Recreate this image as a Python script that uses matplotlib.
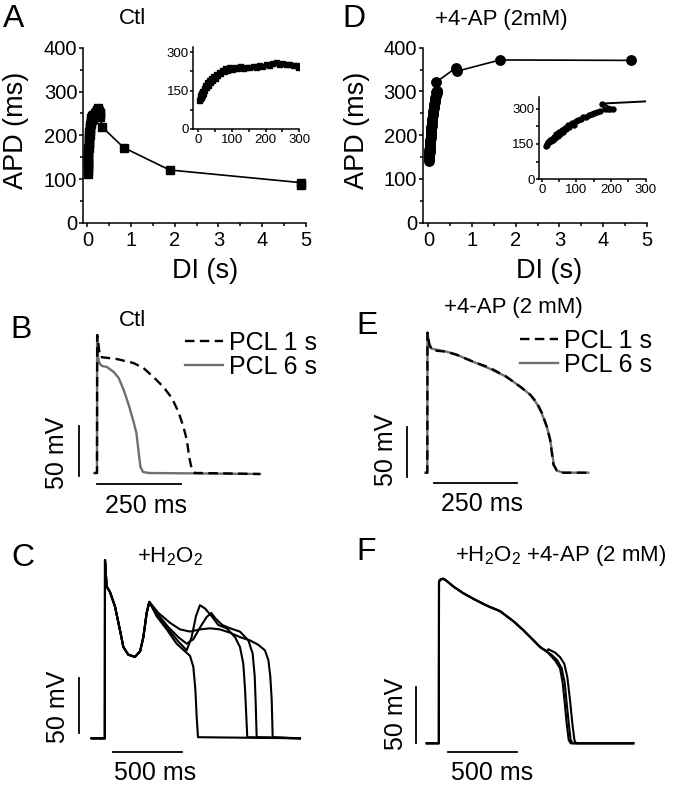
import matplotlib
matplotlib.use('Agg')
import matplotlib.pyplot as plt
from matplotlib.ticker import MultipleLocator
import numpy as np

plt.rcParams['font.family'] = ['Liberation Sans', 'DejaVu Sans']
plt.rcParams['mathtext.fontset'] = 'custom'
plt.rcParams['mathtext.rm'] = 'Liberation Sans'
plt.rcParams['mathtext.it'] = 'Liberation Sans:italic'

# ---------------- data ----------------
# Panel A (Ctl): DI (ms) vs APD (ms)
A_di = [2, 4, 5, 7, 8, 10, 12, 14, 16, 18, 20, 22, 25, 28, 31, 34, 37, 40, 44, 48,
        52, 56, 60, 65, 70, 75, 80, 86, 92, 100, 108, 116, 125, 134, 143, 152, 161, 170, 180, 190,
        200, 210, 220, 230, 240, 250, 260, 270, 280, 290, 297,
        335, 830, 1880, 4900, 4900]
A_apd = [112, 120, 132, 126, 140, 134, 150, 142, 160, 152, 172, 162, 182, 172, 192, 182, 200, 192, 208, 200,
         216, 210, 224, 218, 232, 226, 240, 232, 244, 236, 242, 238, 246, 240, 244, 242, 248, 244, 250, 248,
         254, 252, 258, 262, 256, 258, 254, 256, 252, 250, 242,
         219, 172, 121, 92, 86]

# Panel D (+4-AP): DI (ms) vs APD (ms)
D_di = [12, 14, 16, 18, 20, 23, 26, 29, 32, 35, 38, 42, 46, 50, 54, 58, 62, 66, 70, 75,
        80, 86, 92, 98, 105, 112, 120, 128, 136, 144, 152, 160, 168, 182, 190, 198, 205, 175,
        630, 645, 1640, 4640]
D_apd = [140, 146, 150, 156, 160, 166, 162, 172, 168, 180, 176, 190, 184, 200, 194, 210, 202, 218, 212, 228,
         222, 238, 232, 246, 250, 256, 262, 266, 272, 276, 282, 286, 290, 298, 300, 296, 300, 321,
         354, 346, 372, 371]

# Panel B (Ctl) traces: time (ms), membrane potential (mV)
B_pcl1_t = [-8, 0, 0.5, 2, 9, 59, 109, 139, 169, 199, 224, 244, 259, 269, 276, 283, 293, 308, 488]
B_pcl1_v = [-85, -85, 53, 50, 31, 29, 25, 20, 11, 1, -10, -24, -39, -52, -69, -80, -85, -85, -86]
B_pcl6_t = [-8, 0, 0.5, 3, 7, 15, 30, 50, 65, 80, 95, 108, 118, 125, 130, 138, 155, 488]
B_pcl6_v = [-85, -85, 53, 31, 25, 22, 21, 16, 10, -2, -17, -32, -45, -65, -79, -84, -85, -86]

# Panel E (+4-AP) traces
E_pcl1_t = [-6, 0, 0.5, 6, 13, 28, 58, 88, 138, 188, 238, 280, 310, 330, 345, 360, 370, 375, 380, 390, 410, 485]
E_pcl1_v = [-85, -85, 55, 43, 38, 37, 36, 33, 26, 20, 11, 1, -7, -15, -25, -39, -52, -65, -77, -83, -85, -85]
E_pcl6_t = [-6, 0, 0.5, 6, 13, 28, 58, 88, 138, 188, 238, 280, 310, 330, 345, 360, 370, 376, 381, 391, 410, 485]
E_pcl6_v = [-85, -85, 55, 44, 39, 38, 36, 33, 26, 19, 11, 1, -7, -16, -26, -39, -52, -65, -77, -83, -85, -85]

# Panel C (+H2O2) traces: shared start + 4 beat endings
C_start_t = [-97, -1, 0, 12, 36, 72, 109, 133, 169, 217, 254, 278, 302, 321]
C_start_v = [-85, -85, 77, 53, 48, 35, 13, -2, -9, -11, -6, 7, 29, 39]
C_end_t = [
    [374, 447, 519, 580, 616, 640, 655, 664, 674, 1413],
    [387, 459, 531, 592, 628, 659, 688, 725, 773, 821, 882, 942, 978, 1002, 1015, 1024, 1031, 1413],
    [387, 459, 531, 592, 640, 690, 735, 770, 800, 850, 906, 978, 1039, 1070, 1085, 1092, 1099, 1413],
    [387, 471, 544, 616, 688, 761, 833, 906, 978, 1051, 1111, 1159, 1184, 1198, 1208, 1215, 1413],
]
C_end_v = [
    [26, 14, 1, -6, -10, -20, -41, -65, -84, -85],
    [26, 14, 3, -5, 7, 26, 36, 33, 26, 18, 15, 7, -2, -17, -41, -65, -84, -85],
    [27, 16, 7, 1, 5, 16, 25, 29, 24, 18, 15, 12, 4, -8, -29, -53, -84, -85],
    [29, 20, 14, 12, 14, 15, 14, 11, 7, 4, 0, -5, -14, -29, -50, -84, -85],
]

# Panel F (+H2O2 +4-AP) traces
F_start_t = [-89, -1, 0, 7, 31, 55, 104, 176, 249, 345, 442, 539, 611, 684, 732, 780]
F_start_v = [-85, -85, 59, 61, 62, 60, 55, 49, 44, 38, 33, 24, 16, 7, 1, -3]
F_end_t = [
    [804, 841, 877, 896, 911, 925, 940, 954, 1408],
    [816, 858, 889, 911, 925, 940, 954, 969, 1408],
    [792, 841, 877, 908, 930, 949, 966, 981, 993, 1408],
]
F_end_v = [
    [-6, -11, -18, -31, -49, -67, -82, -85, -85],
    [-6, -11, -18, -31, -49, -67, -82, -85, -85],
    [-1, -4, -8, -14, -26, -46, -67, -82, -85, -85],
]

# ---------------- layout helpers ----------------
W, H = 681, 788
fig = plt.figure(figsize=(W / 100, H / 100), dpi=100)


def rect(l, t, r, b):
    return [l / W, 1 - b / H, (r - l) / W, (b - t) / H]


def ftext(x, y, s, size, **kw):
    fig.text(x / W, 1 - y / H, s, fontsize=size, ha='center', va='center', **kw)


def style(ax, xmaj, xmin, ymaj, ymin, lsize, lmaj, lmin, xpad, ypad):
    for s in ['top', 'right']:
        ax.spines[s].set_visible(False)
    for s in ['left', 'bottom']:
        ax.spines[s].set_linewidth(1.1)
    ax.xaxis.set_major_locator(MultipleLocator(xmaj))
    ax.xaxis.set_minor_locator(MultipleLocator(xmin))
    ax.yaxis.set_major_locator(MultipleLocator(ymaj))
    ax.yaxis.set_minor_locator(MultipleLocator(ymin))
    ax.tick_params(which='both', direction='out', width=1.1, labelsize=lsize)
    ax.tick_params(which='major', length=lmaj)
    ax.tick_params(which='minor', length=lmin)
    ax.tick_params(axis='x', pad=xpad)
    ax.tick_params(axis='y', pad=ypad)


TICK = 14.5
ALAB = 19.5
LET = 23
TIT = 16
BIG = 18
ITICK = 9.5

# ---------------- Panel A ----------------
axA = fig.add_axes(rect(82.9, 47.7, 305.8, 223))
axA.plot(np.array(A_di) / 1000.0, A_apd, color='k', lw=1.2, marker='s', ms=6, mfc='k', mec='k')
axA.set_xlim(-0.105, 5)
axA.set_ylim(0, 400)
style(axA, 1, 0.5, 100, 50, TICK, 3, 2.2, 3.0, 1.0)

axAi = fig.add_axes(rect(193.3, 47.3, 299.3, 128.7))
axAi.plot(A_di, A_apd, color='k', lw=1.0, marker='s', ms=3.6, mfc='k', mec='k')
axAi.set_xlim(-15, 300)
axAi.set_ylim(0, 320)
style(axAi, 100, 50, 150, 75, ITICK, 2.2, 2.2, 1.5, 1.0)

# ---------------- Panel D ----------------
axD = fig.add_axes(rect(422.7, 47.7, 646.8, 222.7))
axD.plot(np.array(D_di) / 1000.0, D_apd, color='k', lw=1.2, marker='o', ms=6.8, mfc='k', mec='k')
axD.set_xlim(-0.13, 5)
axD.set_ylim(0, 400)
style(axD, 1, 0.5, 100, 50, TICK, 3, 2.2, 3.0, 1.0)

axDi = fig.add_axes(rect(539, 96.7, 645.7, 179.3))
axDi.plot(D_di, D_apd, color='k', lw=1.4, marker='o', ms=3.6, mfc='k', mec='k')
axDi.set_xlim(-8, 300)
axDi.set_ylim(0, 350)
style(axDi, 100, 50, 150, 75, ITICK, 2.2, 2.2, 1.5, 1.0)

# axis labels, titles, letters for A / D
ftext(16.5, 130, 'APD (ms)', ALAB, rotation=90)
ftext(205, 271, 'DI (s)', ALAB)
ftext(357, 130, 'APD (ms)', ALAB, rotation=90)
ftext(549, 271, 'DI (s)', ALAB)
ftext(14, 19, 'A', LET)
ftext(133, 19, 'Ctl', TIT)
ftext(354, 19, 'D', LET)
ftext(501, 19, '+4-AP (2mM)', TIT)

GRAY = '#6f6f6f'
DASH = (0, (4.0, 2.3))

# ---------------- Panel B ----------------
axB = fig.add_axes(rect(40, 295, 310, 525))
axB.set_xlim((40 - 97) / 0.334, (310 - 97) / 0.334)
axB.set_ylim(-85 - (525 - 473), -85 + (473 - 295))
axB.axis('off')
lB6, = axB.plot(B_pcl6_t, B_pcl6_v, color=GRAY, lw=1.7)
lB1, = axB.plot(B_pcl1_t, B_pcl1_v, color='k', lw=1.7, linestyle=DASH)
axB.plot([-54, -54], [-88, -38], color='k', lw=1.3)          # 50 mV bar
axB.plot([0, 250], [-96, -96], color='k', lw=1.3)            # 250 ms bar
fig.legend([lB1, lB6], ['PCL 1 s', 'PCL 6 s'], loc='center left',
           bbox_to_anchor=(185 / W, 1 - 355 / H), bbox_transform=fig.transFigure,
           frameon=False, fontsize=BIG, handlelength=1.5, handletextpad=0.25,
           labelspacing=0.0, borderpad=0, borderaxespad=0)
ftext(57, 453, '50 mV', BIG, rotation=90)
ftext(146, 506, '250 ms', BIG)
ftext(21, 330, 'B', LET)
ftext(132.5, 320, 'Ctl', TIT)

# ---------------- Panel E ----------------
axE = fig.add_axes(rect(370, 295, 650, 525))
axE.set_xlim((370 - 427.3) / 0.332, (650 - 427.3) / 0.332)
axE.set_ylim(-85 - (525 - 472.7), -85 + (472.7 - 295))
axE.axis('off')
lE6, = axE.plot(E_pcl6_t, E_pcl6_v, color=GRAY, lw=1.7)
lE1, = axE.plot(E_pcl1_t, E_pcl1_v, color='k', lw=1.7, linestyle=DASH)
axE.plot([-61, -61], [-89.3, -39.3], color='k', lw=1.3)
axE.plot([20, 270], [-95.3, -95.3], color='k', lw=1.3)
fig.legend([lE1, lE6], ['PCL 1 s', 'PCL 6 s'], loc='center left',
           bbox_to_anchor=(520 / W, 1 - 353 / H), bbox_transform=fig.transFigure,
           frameon=False, fontsize=BIG, handlelength=1.5, handletextpad=0.25,
           labelspacing=0.0, borderpad=0, borderaxespad=0)
ftext(386, 450, '50 mV', BIG, rotation=90)
ftext(482, 504, '250 ms', BIG)
ftext(367, 326, 'E', LET)
ftext(513, 307.5, '+4-AP (2 mM)', TIT)

# ---------------- Panel C ----------------
axC = fig.add_axes(rect(40, 540, 320, 788))
axC.set_xlim((40 - 105) / 0.138, (320 - 105) / 0.138)
axC.set_ylim(-85 - (788 - 738.3) / 1.1, -85 + (738.3 - 540) / 1.1)
axC.axis('off')
for et, ev in zip(C_end_t, C_end_v):
    axC.plot(C_start_t + et, C_start_v + ev, color='k', lw=1.5)
axC.plot([-188, -188], [-80.5, -30.5], color='k', lw=1.3)
axC.plot([58, 558], [-97.5, -97.5], color='k', lw=1.3)
ftext(58, 707, '50 mV', BIG, rotation=90)
ftext(155, 773, '500 ms', BIG)
ftext(23, 558, 'C', LET)
ftext(170, 557, r'+H$_\mathregular{2}$O$_\mathregular{2}$', TIT)

# ---------------- Panel F ----------------
axF = fig.add_axes(rect(380, 540, 660, 788))
axF.set_xlim((380 - 439) / 0.138, (660 - 439) / 0.138)
axF.set_ylim(-85 - (788 - 743.3) / 1.12, -85 + (743.3 - 540) / 1.12)
axF.axis('off')
for et, ev in zip(F_end_t, F_end_v):
    axF.plot(F_start_t + et, F_start_v + ev, color='k', lw=1.5)
axF.plot([-167, -167], [-84.7, -34.7], color='k', lw=1.3)
axF.plot([65, 565], [-92.8, -92.8], color='k', lw=1.3)
ftext(396, 714, '50 mV', BIG, rotation=90)
ftext(492, 773, '500 ms', BIG)
ftext(366, 552, 'F', LET)
ftext(561, 555, r'+H$_\mathregular{2}$O$_\mathregular{2}$ +4-AP (2 mM)', TIT)

fig.savefig('out.png', dpi=100)
